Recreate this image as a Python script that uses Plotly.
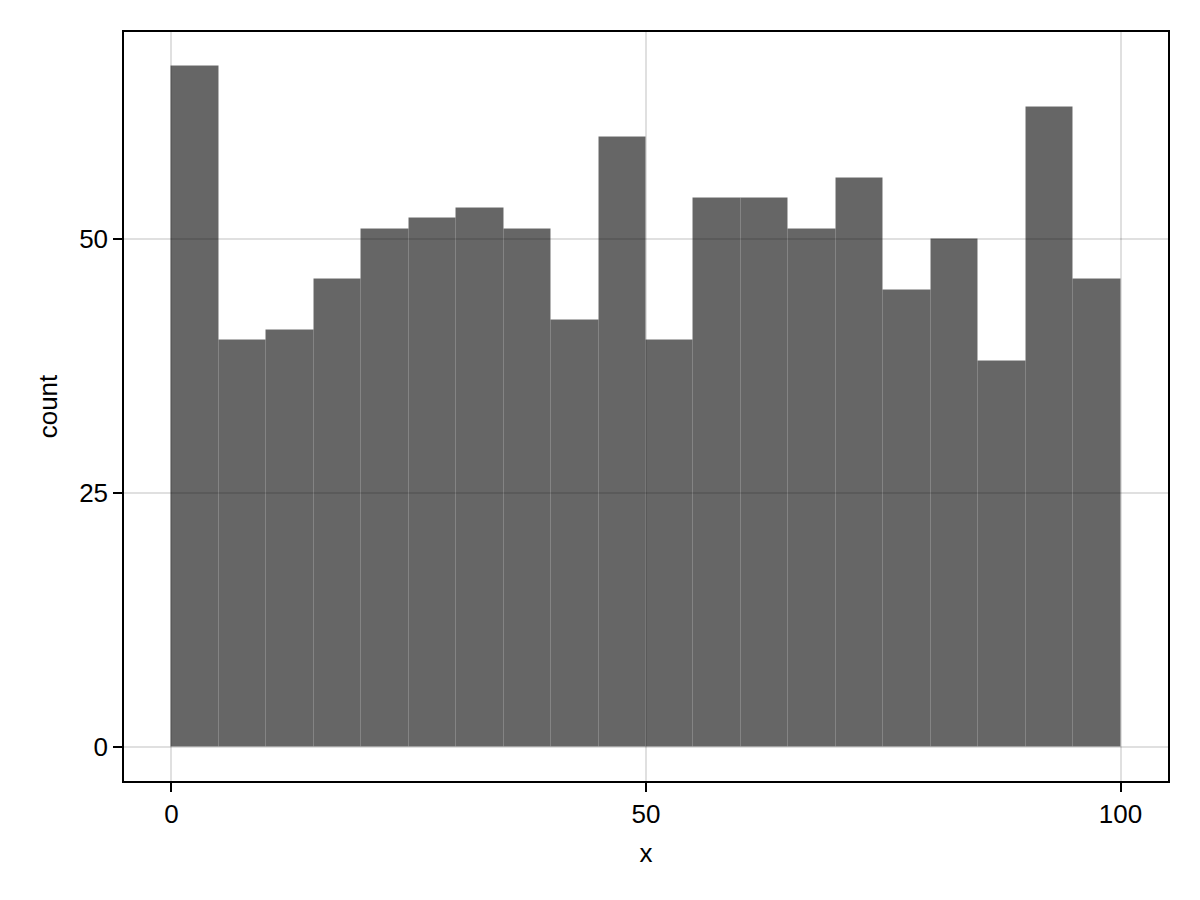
import plotly.graph_objects as go

bin_edges = [0, 5, 10, 15, 20, 25, 30, 35, 40, 45, 50, 55, 60, 65, 70, 75, 80, 85, 90, 95, 100]
counts = [67, 40, 41, 46, 51, 52, 53, 51, 42, 60, 40, 54, 54, 51, 56, 45, 50, 38, 63, 46]
x_ticks = [0, 50, 100]
y_ticks = [0, 25, 50]

centers = [(a + b) / 2 for a, b in zip(bin_edges[:-1], bin_edges[1:])]
widths = [b - a for a, b in zip(bin_edges[:-1], bin_edges[1:])]

fig = go.Figure(go.Bar(
    x=centers, y=counts, width=widths,
    marker=dict(color="rgba(0,0,0,0.6)",
                line=dict(color="rgba(255,255,255,0.05)", width=1)),
    hoverinfo="x+y",
))

font_family = "Liberation Sans, Arial, sans-serif"
fig.update_layout(
    width=1200, height=900,
    paper_bgcolor="white", plot_bgcolor="white",
    margin=dict(l=116, r=40, t=24, b=127),
    bargap=0,
    showlegend=False,
    font=dict(family=font_family, size=26, color="black"),
)
fig.update_xaxes(
    range=[-5, 105], tickvals=x_ticks, ticks="outside", ticklen=9, tickwidth=1.5,
    tickcolor="black", showline=True, linecolor="black", linewidth=1.5, mirror=True,
    showgrid=True, gridcolor="rgba(0,0,0,0.12)", gridwidth=1.5, zeroline=False,
    title=dict(text="x", font=dict(size=26), standoff=16),
    tickfont=dict(size=26),
)
fig.update_yaxes(
    range=[-3.35, 70.35], tickvals=y_ticks, ticks="outside", ticklen=9, tickwidth=1.5,
    tickcolor="black", showline=True, linecolor="black", linewidth=1.5, mirror=True,
    showgrid=True, gridcolor="rgba(0,0,0,0.12)", gridwidth=1.5, zeroline=False,
    title=dict(text="count", font=dict(size=26), standoff=14),
    tickfont=dict(size=26),
)

fig.write_html("out.html")
